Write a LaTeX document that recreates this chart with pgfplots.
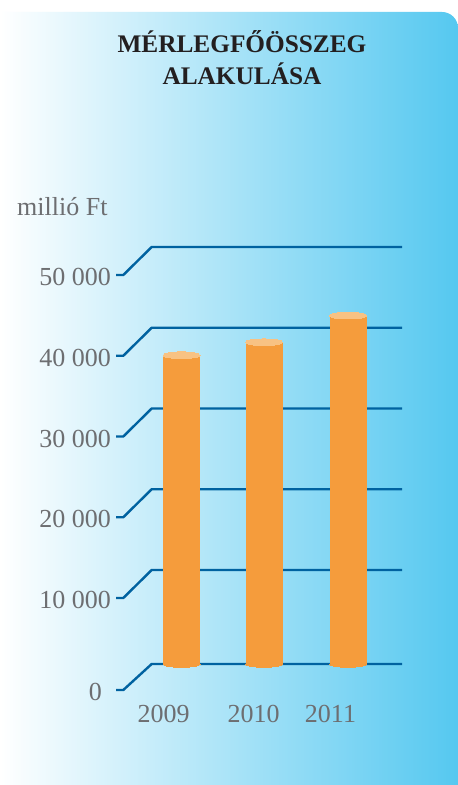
\documentclass[border=0pt]{standalone}
\usepackage{fontspec}
\setmainfont{Liberation Serif}
\usepackage{pgfplots}
\usepackage{pgfplotstable}
\pgfplotsset{compat=1.18}

\definecolor{bgblue}{HTML}{55C8F0}
\definecolor{gridblue}{HTML}{0062A0}
\definecolor{barorange}{HTML}{F59C3C}
\definecolor{bartop}{HTML}{F8C283}
\definecolor{labgray}{HTML}{6D6E71}
\definecolor{titleblack}{HTML}{231F20}

% balance sheet total, million Ft
\pgfplotstableread{
year x value
2009 181.5 36600
2010 264.0 38200
2011 348.0 41500
}\bardata

\begin{document}
\begin{tikzpicture}[x=1pt,y=1pt,
    lab/.style={text=labgray, font=\fontsize{26}{30}\selectfont, inner sep=0pt},
    ttl/.style={text=titleblack, font=\bfseries\fontsize{25.3}{30}\selectfont,
      anchor=base, inner sep=0pt},
    grid/.style={draw=gridblue, line width=2.4pt}]
  \path[use as bounding box] (0,0) rectangle (458,785);
  \fill[white] (-20,-20) rectangle (478,805);
  \shade[left color=white, right color=bgblue]
    (0,-30) -- (0,773) -- (442,773) arc[start angle=90, end angle=0, radius=16]
    -- (458,-30) -- cycle;

  \begin{axis}[
      at={(0,0)}, anchor=south west,
      scale only axis, width=458pt, height=785pt,
      xmin=0, xmax=458, ymin=-16625.4, ymax=80588.2,
      hide axis, clip=false]

    % grid lines with the perspective step
    \pgfplotsinvokeforeach{10000,20000,30000,40000,50000}{
      \draw[grid] (axis cs:116,{#1-3467}) -- (axis cs:123.3,{#1-3467})
        -- (axis cs:151.7,#1) -- (axis cs:402,#1);
    }
    \draw[grid] (axis cs:116,-4861) -- (axis cs:123.3,-4861)
      -- (axis cs:151.7,-1641) -- (axis cs:402,-1641);

    \node[lab, anchor=east, yshift=-2pt] at (axis cs:111,46533) {50 000};
    \node[lab, anchor=east, yshift=-2pt] at (axis cs:111,36533) {40 000};
    \node[lab, anchor=east, yshift=-2pt] at (axis cs:111,26533) {30 000};
    \node[lab, anchor=east, yshift=-2pt] at (axis cs:111,16533) {20 000};
    \node[lab, anchor=east, yshift=-2pt] at (axis cs:111,6533) {10 000};
    \node[lab, anchor=east, yshift=-2pt] at (axis cs:102,-4861) {0};

    % cylinders: bottom cap, body, top cap
    \addplot[only marks, color=barorange, mark=*, mark size=18.5pt, forget plot,
      mark options={draw=barorange, fill=barorange, line width=0pt, yscale=0.18}]
      table[x=x, y expr=-1641] {\bardata};
    \addplot[draw=none, mark=none, forget plot,
      error bars/.cd, y dir=minus, y explicit, error mark=none,
      error bar style={draw=barorange, line width=37pt}]
      table[x=x, y=value, y error expr=\thisrow{value}+1641] {\bardata};
    \addplot[only marks, color=bartop, mark=*, mark size=18.5pt, forget plot,
      mark options={draw=bartop, fill=bartop, line width=0pt, yscale=0.18}]
      table[x=x, y=value] {\bardata};

    \node[lab, anchor=base] at (axis cs:163.5,-8824) {2009};
    \node[lab, anchor=base] at (axis cs:253.5,-8824) {2010};
    \node[lab, anchor=base] at (axis cs:330.5,-8824) {2011};
  \end{axis}

  \node[lab, anchor=base west] at (17,569) {millió Ft};
  \node[ttl] at (242,732) {MÉRLEGFŐÖSSZEG};
  \node[ttl] at (242,700) {ALAKULÁSA};
\end{tikzpicture}
\end{document}
